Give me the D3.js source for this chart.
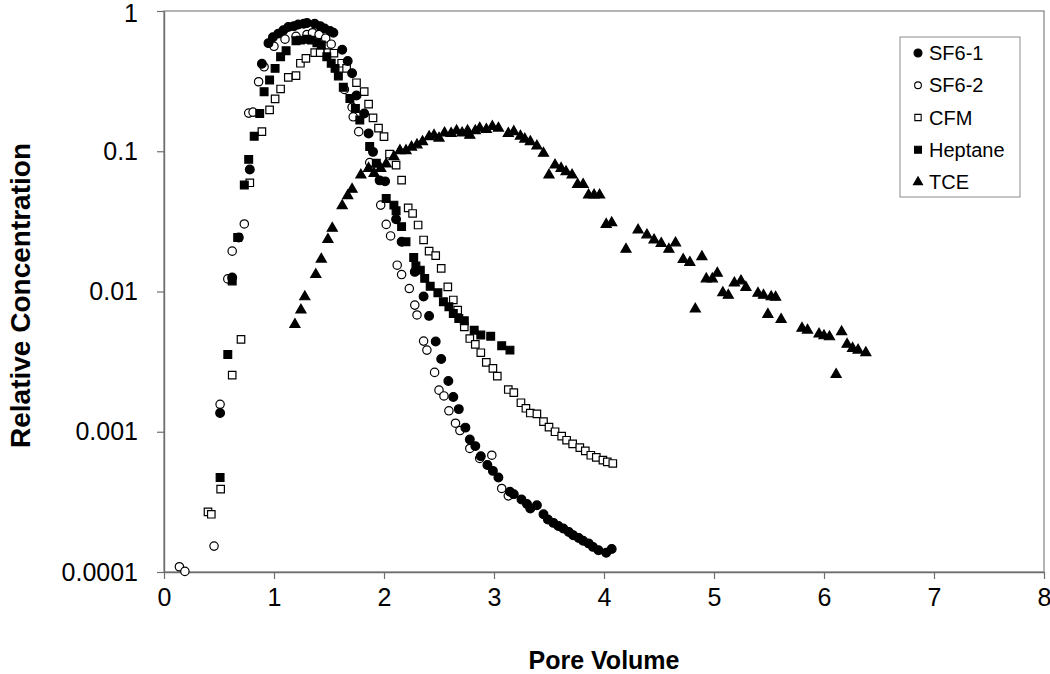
<!DOCTYPE html>
<html><head><meta charset="utf-8">
<script src="https://cdn.jsdelivr.net/npm/d3@7"></script>
<style>body{margin:0;background:#fff} svg{display:block} text{font-family:"Liberation Sans",Arial,sans-serif}</style>
</head><body><svg id="c" width="1050" height="674"></svg>
<script>
const seriesNames = ["SF6-1","SF6-2","CFM","Heptane","TCE"];
const xTicks = [0,1,2,3,4,5,6,7,8];
const yTicks = [0.0001,0.001,0.01,0.1,1];
const yTickLabels = ["0.0001","0.001","0.01","0.1","1"];

const sf61 = [[0.51,0.00136],[0.62,0.0126],[0.68,0.0243],[0.78,0.074],[0.89,0.42],[0.95,0.59],[0.99,0.65],[1.04,0.69],[1.085,0.73],[1.13,0.77],[1.18,0.78],[1.22,0.80],[1.27,0.81],[1.30,0.82],[1.37,0.81],[1.42,0.78],[1.46,0.75],[1.51,0.72],[1.54,0.70],[1.62,0.53],[1.67,0.44],[1.71,0.36],[1.75,0.25],[1.82,0.186],[1.86,0.134],[1.90,0.099],[1.96,0.062],[2.01,0.061],[2.11,0.0327],[2.16,0.0226],[2.28,0.0138],[2.36,0.0092],[2.41,0.0067],[2.47,0.0044],[2.52,0.0033],[2.585,0.0023],[2.63,0.00177],[2.68,0.00145],[2.74,0.00107],[2.78,0.00088],[2.83,0.00079],[2.88,0.00067],[2.94,0.00058],[2.99,0.000526],[3.04,0.000472],[3.145,0.000373],[3.18,0.000359],[3.25,0.000329],[3.30,0.000305],[3.33,0.000284],[3.39,0.000299],[3.45,0.000258],[3.49,0.000237],[3.54,0.000224],[3.585,0.000213],[3.63,0.000204],[3.68,0.000193],[3.72,0.000183],[3.77,0.000175],[3.81,0.000167],[3.86,0.00016],[3.90,0.000151],[3.95,0.000143],[4.02,0.000137],[4.07,0.000146]];

const sf62 = [[0.14,0.000109],[0.19,0.000101],[0.455,0.000153],[0.51,0.00157],[0.58,0.0123],[0.62,0.0194],[0.73,0.0303],[0.77,0.187],[0.81,0.19],[0.86,0.313],[0.91,0.40],[1.0,0.56],[1.1,0.63],[1.2,0.66],[1.3,0.68],[1.35,0.70],[1.41,0.68],[1.47,0.64],[1.52,0.58],[1.64,0.276],[1.71,0.206],[1.72,0.176],[1.77,0.138],[1.87,0.083],[1.97,0.0413],[2.02,0.0301],[2.06,0.0249],[2.12,0.0154],[2.16,0.0132],[2.23,0.0105],[2.28,0.008],[2.30,0.0068],[2.36,0.00443],[2.39,0.00382],[2.46,0.00265],[2.50,0.00198],[2.545,0.0018],[2.59,0.00141],[2.65,0.00115],[2.69,0.00102],[2.78,0.00076],[2.87,0.000645],[2.98,0.00068],[3.07,0.000394],[3.13,0.000349]];

const cfm = [[0.40,0.000268],[0.43,0.000258],[0.515,0.00039],[0.62,0.00253],[0.70,0.00455],[0.78,0.0596],[0.89,0.138],[0.96,0.197],[1.01,0.236],[1.06,0.278],[1.13,0.336],[1.20,0.346],[1.24,0.424],[1.29,0.46],[1.37,0.505],[1.42,0.505],[1.49,0.505],[1.545,0.50],[1.615,0.424],[1.66,0.39],[1.75,0.308],[1.82,0.266],[1.86,0.217],[1.90,0.173],[1.95,0.146],[2.0,0.127],[2.05,0.0955],[2.11,0.0797],[2.16,0.0623],[2.22,0.0395],[2.26,0.036],[2.31,0.0298],[2.36,0.0233],[2.41,0.0194],[2.47,0.018],[2.52,0.0146],[2.58,0.0108],[2.63,0.0087],[2.67,0.00737],[2.73,0.0056],[2.78,0.00462],[2.83,0.0042],[2.88,0.00366],[2.93,0.00312],[2.99,0.00283],[3.03,0.00249],[3.13,0.002],[3.18,0.0019],[3.245,0.00161],[3.29,0.00147],[3.33,0.00136],[3.39,0.00134],[3.45,0.00118],[3.50,0.00108],[3.555,0.001],[3.615,0.00093],[3.66,0.00087],[3.715,0.00082],[3.78,0.00077],[3.83,0.00073],[3.88,0.00068],[3.93,0.000656],[3.99,0.000627],[4.03,0.00061],[4.08,0.000594]];

const heptane = [[0.51,0.000472],[0.58,0.00356],[0.62,0.0119],[0.67,0.0243],[0.73,0.0574],[0.77,0.0875],[0.82,0.128],[0.87,0.186],[0.91,0.266],[0.96,0.322],[1.01,0.39],[1.06,0.472],[1.11,0.521],[1.20,0.614],[1.24,0.62],[1.30,0.628],[1.34,0.62],[1.39,0.594],[1.43,0.572],[1.48,0.472],[1.52,0.424],[1.555,0.39],[1.585,0.344],[1.63,0.286],[1.69,0.238],[1.74,0.202],[1.78,0.167],[1.87,0.108],[1.93,0.082],[2.02,0.0461],[2.09,0.0413],[2.11,0.0376],[2.16,0.029],[2.20,0.0226],[2.27,0.0175],[2.29,0.0152],[2.33,0.0142],[2.37,0.0124],[2.42,0.0109],[2.49,0.0098],[2.54,0.00845],[2.59,0.00778],[2.63,0.00697],[2.68,0.00642],[2.73,0.00618],[2.82,0.0053],[2.88,0.00489],[2.97,0.0048],[3.07,0.0041],[3.145,0.00382]];

const tce = [[1.19,0.00582],[1.245,0.00737],[1.28,0.00916],[1.38,0.0132],[1.43,0.017],[1.49,0.0235],[1.53,0.0282],[1.62,0.0409],[1.67,0.0482],[1.71,0.0535],[1.79,0.0676],[1.86,0.0755],[1.91,0.0695],[1.97,0.0755],[2.02,0.081],[2.09,0.0914],[2.145,0.101],[2.20,0.101],[2.25,0.107],[2.30,0.111],[2.35,0.117],[2.41,0.127],[2.455,0.13],[2.50,0.124],[2.55,0.135],[2.61,0.134],[2.66,0.14],[2.71,0.135],[2.76,0.14],[2.78,0.13],[2.83,0.14],[2.87,0.146],[2.93,0.143],[2.985,0.15],[3.04,0.146],[3.13,0.134],[3.18,0.138],[3.24,0.128],[3.28,0.122],[3.33,0.117],[3.39,0.109],[3.45,0.0966],[3.50,0.0676],[3.555,0.0797],[3.61,0.0755],[3.655,0.0714],[3.71,0.0676],[3.76,0.058],[3.81,0.058],[3.86,0.0487],[3.91,0.0487],[3.96,0.0487],[4.02,0.0301],[4.07,0.0309],[4.20,0.02],[4.31,0.0274],[4.39,0.0253],[4.455,0.0233],[4.52,0.022],[4.59,0.02],[4.65,0.0222],[4.72,0.0169],[4.78,0.0161],[4.83,0.00749],[4.89,0.0177],[4.93,0.0123],[4.985,0.0123],[5.03,0.0135],[5.08,0.0098],[5.13,0.0094],[5.185,0.0115],[5.245,0.0119],[5.29,0.0107],[5.40,0.0097],[5.45,0.0094],[5.49,0.00687],[5.52,0.00916],[5.56,0.0091],[5.61,0.00632],[5.80,0.00546],[5.85,0.0053],[5.955,0.00497],[6.0,0.00483],[6.05,0.00475],[6.11,0.00256],[6.16,0.00516],[6.21,0.0042],[6.26,0.00393],[6.31,0.00382],[6.38,0.00366]];

const svg = d3.select("#c");
const L = 164, R = 1044, T = 11, B = 572;
const x = d3.scaleLinear().domain([0,8]).range([L,R]);
const y = d3.scaleLog().domain([1e-4,1]).range([B,T]);

// plot border
svg.append("rect").attr("x",L).attr("y",T).attr("width",R-L).attr("height",B-T)
  .attr("fill","none").attr("stroke","#8c8c8c").attr("stroke-width",1.3);

const ax = svg.append("g").attr("transform",`translate(0,${B})`)
  .call(d3.axisBottom(x).tickValues(xTicks).tickFormat(d3.format("d")).tickSize(7).tickSizeOuter(0).tickPadding(9));
const ay = svg.append("g").attr("transform",`translate(${L},0)`)
  .call(d3.axisLeft(y).tickValues(yTicks).tickFormat((d,i)=>yTickLabels[i]).tickSize(7).tickSizeOuter(0).tickPadding(19));
[ax,ay].forEach(g=>{
  g.select(".domain").attr("stroke","#6e6e6e").attr("stroke-width",1.4);
  g.selectAll(".tick line").attr("stroke","#6e6e6e").attr("stroke-width",1.2);
  g.selectAll(".tick text").attr("fill","#000").style("font-size","25px").style("font-family",'"Liberation Sans",Arial,sans-serif');
});
// keep the top "1" label inside the picture
ay.selectAll(".tick text").filter(d=>d===1).attr("dy","0.40em");

svg.append("text").attr("x",(L+R)/2).attr("y",669).attr("text-anchor","middle")
  .style("font-size","25px").style("font-weight","bold").text("Pore Volume");
svg.append("text").attr("transform",`translate(30,${(T+B)/2 + 4}) rotate(-90)`).attr("text-anchor","middle")
  .style("font-size","28px").style("font-weight","bold").text("Relative Concentration");

const styles = {
  "SF6-1":{type:d3.symbolCircle,size:60,fill:"#000",stroke:"#000",lsize:50},
  "SF6-2":{type:d3.symbolCircle,size:55,fill:"#fff",stroke:"#000",lsize:36},
  "CFM":{type:d3.symbolSquare,size:56,fill:"#fff",stroke:"#000",lsize:40},
  "Heptane":{type:d3.symbolSquare,size:60,fill:"#000",stroke:"#000",lsize:48},
  "TCE":{type:d3.symbolTriangle,size:44,fill:"#000",stroke:"#000",lsize:36}
};
const dataBy = {"SF6-1":sf61,"SF6-2":sf62,"CFM":cfm,"Heptane":heptane,"TCE":tce};
const drawOrder = ["SF6-2","CFM","Heptane","TCE","SF6-1"];
drawOrder.forEach(n=>{
  const s = styles[n];
  svg.append("g").selectAll("path").data(dataBy[n]).join("path")
    .attr("transform",d=>`translate(${x(d[0])},${y(d[1])})`)
    .attr("d",d3.symbol().type(s.type).size(s.size))
    .attr("fill",s.fill).attr("stroke",s.stroke).attr("stroke-width",1.2);
});

// legend
const lg = svg.append("g");
lg.append("rect").attr("x",900).attr("y",37).attr("width",120).attr("height",160)
  .attr("fill","#fff").attr("stroke","#8c8c8c").attr("stroke-width",1);
const ly = d3.scalePoint().domain(seriesNames).range([53,182]);
seriesNames.forEach(n=>{
  const s = styles[n];
  lg.append("path").attr("transform",`translate(918,${ly(n)})`)
    .attr("d",d3.symbol().type(s.type).size(s.lsize))
    .attr("fill",s.fill).attr("stroke",s.stroke).attr("stroke-width",1.1);
  lg.append("text").attr("x",929).attr("y",ly(n)+7).style("font-size","20px").text(n);
});
</script></body></html>
